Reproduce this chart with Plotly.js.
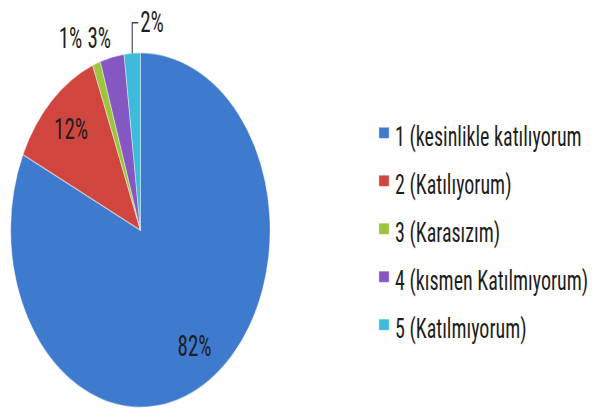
<!DOCTYPE html>
<html>
<head>
<meta charset="utf-8">
<script src="https://cdn.plot.ly/plotly-3.0.1.min.js"></script>
<style>
html,body{margin:0;padding:0;background:#fff;overflow:hidden;width:594px;height:418px;}
#wrap{width:594px;height:306px;transform:scale(1,1.36601);transform-origin:0 0;}
#chart{width:594px;height:306px;}
</style>
</head>
<body>
<div id="wrap"><div id="chart"></div></div>
<script>
// Data
var categories = ["1 (kesinlikle katılıyorum", "2 (Katılıyorum)", "3 (Karasızım)", "4 (kısmen Katılmıyorum)", "5 (Katılmıyorum)"];
var values = [82, 12, 1, 3, 2];
var sliceColors = ["#3E7BCE", "#D0463F", "#9CC43C", "#8557C2", "#3CBCDA"];
var textPositions = ["inside", "inside", "outside", "outside", "outside"];

var FONT = '"Liberation Sans Narrow", "Roboto Condensed", Roboto, sans-serif';

var legendLabels = categories.map(function (c) {
  return '<span style="font-size:20px">' + c + '</span>';
});

var data = [{
  type: 'pie',
  labels: legendLabels,
  values: values,
  sort: false,
  direction: 'clockwise',
  rotation: 0,
  marker: {colors: sliceColors, line: {color: 'rgba(255,255,255,0.4)', width: 1}},
  textinfo: 'percent',
  texttemplate: '%{percent:.0%}',
  textposition: textPositions,
  insidetextorientation: 'horizontal',
  textfont: {family: FONT, size: 21, color: '#1e1e1e'},
  outsidetextfont: {family: FONT, size: 21, color: '#1e1e1e'},
  hoverinfo: 'skip',
  domain: {x: [11 / 594, 279 / 594], y: [3.6 / 306, 271.6 / 306]}
}];

var layout = {
  width: 594,
  height: 306,
  margin: {l: 0, r: 0, t: 0, b: 0},
  paper_bgcolor: '#ffffff',
  plot_bgcolor: '#ffffff',
  showlegend: true,
  legend: {
    x: 367 / 594, xanchor: 'left',
    y: 1 - 167.7 / 306, yanchor: 'middle',
    font: {family: FONT, size: 24.7, color: '#1e1e1e'},
    bgcolor: 'rgba(0,0,0,0)',
    traceorder: 'normal'
  }
};

var gd = document.getElementById('chart');
Plotly.newPlot(gd, data, layout, {displayModeBar: false, staticPlot: true}).then(function () {
  // smaller legend swatches placed closer to the text, as in the reference
  gd.querySelectorAll('.legend path.legendpie').forEach(function (p) {
    var t = p.getAttribute('transform') || '';
    p.setAttribute('transform', t + ' translate(9,0) scale(0.85,0.68)');
  });

  var cd = gd.calcdata[0];
  var cd0 = cd[0];
  var cx = cd0.cx, cy = cd0.cy, r = cd0.r;
  var layer = gd.querySelector('.pielayer');
  if (!layer) return;
  var outside = [];
  layer.querySelectorAll('g.slice').forEach(function (s) {
    var pt = s.__data__;
    if (!pt || !pt.pxmid) return;
    var tg = s.querySelector('g.slicetext');
    if (!tg) return;
    var bb = tg.getBBox();
    var tcx = bb.x + bb.width / 2, tcy = bb.y + bb.height / 2;
    if (textPositions[pt.i] === 'inside') {
      var tx = cx + 0.78 * pt.pxmid[0], ty = cy + 0.78 * pt.pxmid[1];
      tg.setAttribute('transform', 'translate(' + (tx - tcx) + ',' + (ty - tcy) + ')');
    } else {
      outside.push({pt: pt, tg: tg, bb: bb, tcy: tcy, line: s.querySelector('path.textline'), slice: s});
    }
  });
  if (!outside.length) return;
  var top = cy - r;
  // label nearest the top gets a leader line
  var last = outside[outside.length - 1];
  var mx = cx + last.pt.pxmid[0], my = cy + last.pt.pxmid[1];
  var ly = top - 22, lx0 = mx + 8;
  last.tg.setAttribute('transform', 'translate(' + (lx0 - last.bb.x) + ',' + (ly - last.tcy) + ')');
  var ln = last.line;
  if (!ln) {
    ln = document.createElementNS('http://www.w3.org/2000/svg', 'path');
    ln.setAttribute('class', 'textline');
    last.slice.appendChild(ln);
  }
  ln.setAttribute('d', 'M' + mx + ',' + my + 'V' + ly + 'H' + (lx0 - 2));
  ln.style.stroke = '#404040';
  ln.style.strokeWidth = '1.1px';
  ln.style.fill = 'none';
  // remaining outside labels in a row, right to left
  var rowY = top - 11;
  var rightEdge = Infinity;
  for (var j = outside.length - 2; j >= 0; j--) {
    var o = outside[j];
    var mxj = cx + o.pt.pxmid[0];
    var right = Math.min(mxj - 1, rightEdge);
    o.tg.setAttribute('transform', 'translate(' + (right - (o.bb.x + o.bb.width)) + ',' + (rowY - o.tcy) + ')');
    rightEdge = right - o.bb.width - 5;
    if (o.line) o.line.style.display = 'none';
  }
});
</script>
</body>
</html>
